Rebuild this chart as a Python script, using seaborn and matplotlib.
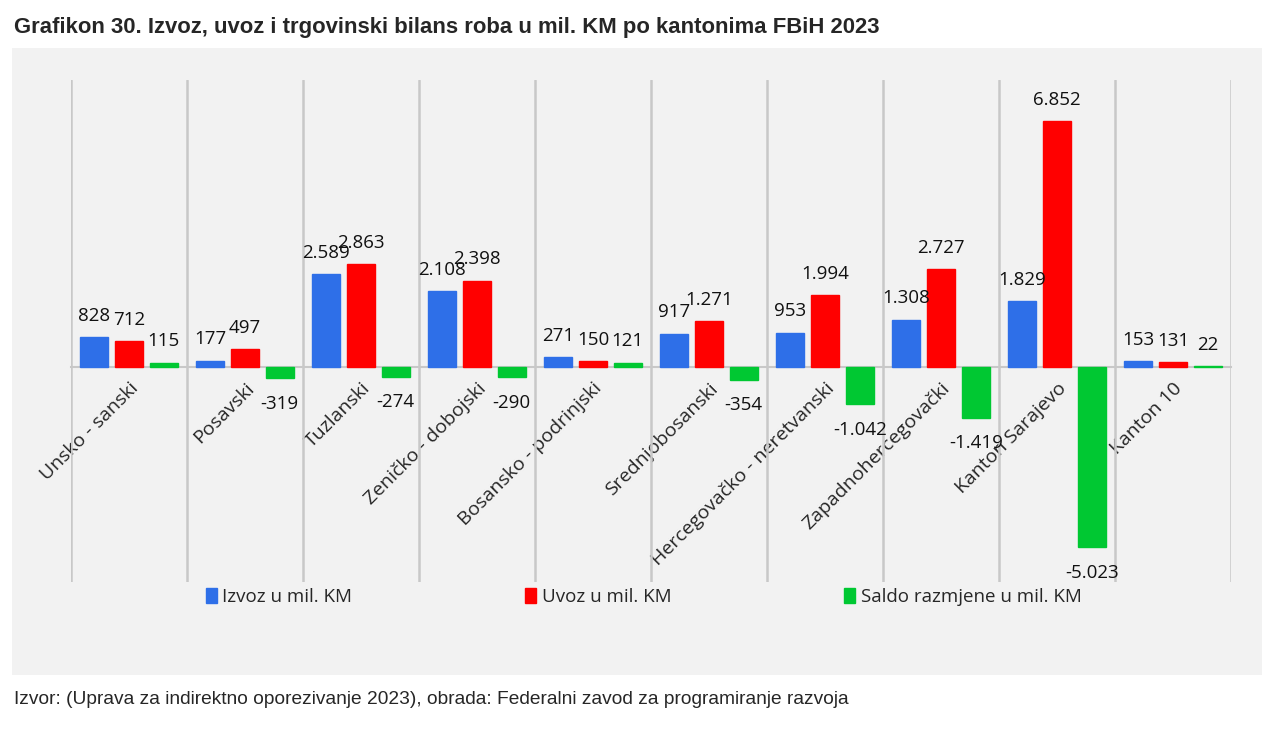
import matplotlib.pyplot as plt
import matplotlib.patches as mpatches
import pandas as pd
import seaborn as sns
import numpy as np

# data (mil. KM)
kantoni = ["Unsko - sanski", "Posavski", "Tuzlanski", "Zeničko - dobojski",
           "Bosansko - podrinjski", "Srednjobosanski", "Hercegovačko - neretvanski",
           "Zapadnohercegovački", "Kanton Sarajevo", "Kanton 10"]
izvoz = [828, 177, 2589, 2108, 271, 917, 953, 1308, 1829, 153]
uvoz = [712, 497, 2863, 2398, 150, 1271, 1994, 2727, 6852, 131]
saldo = [115, -319, -274, -290, 121, -354, -1042, -1419, -5023, 22]
serije = ["Izvoz u mil. KM", "Uvoz u mil. KM", "Saldo razmjene u mil. KM"]
boje = ["#2e6fe8", "#ff0000", "#00c832"]

df = pd.DataFrame({"kanton": kantoni * 3,
                   "serija": np.repeat(serije, len(kantoni)),
                   "vrijednost": izvoz + uvoz + saldo})

sns.set_style("white")
plt.rcParams["font.family"] = ["Open Sans", "DejaVu Sans"]

fig = plt.figure(figsize=(12.8, 7.39), dpi=100)
# light gray chart area (behind the axes)
fig.patches.append(mpatches.Rectangle((12 / 1280, 1 - 675 / 739), 1250 / 1280, 627 / 739,
                                      transform=fig.transFigure, facecolor="#f2f2f2",
                                      edgecolor="none", zorder=-5))
ax = fig.add_axes([71 / 1280, 1 - 582 / 739, 1160 / 1280, 502 / 739])
ax.set_facecolor("none")

sns.barplot(data=df, x="kanton", y="vrijednost", hue="serija", palette=boje,
            saturation=1, width=0.9, gap=0.2, ax=ax, legend=False, zorder=3)

fmt = lambda v: f"{v:,.0f}".replace(",", ".")
for cont in ax.containers:
    for bar in cont:
        bar.set_edgecolor(bar.get_facecolor())
    vals = [b.get_height() for b in cont]
    pos = [fmt(v) if v >= 0 else "" for v in vals]
    neg = [fmt(v) if v < 0 else "" for v in vals]
    ax.bar_label(cont, labels=pos, padding=9, fontsize=13.5, color="#111111")
    ax.bar_label(cont, labels=neg, padding=12, fontsize=13.5, color="#111111")

ax.set_ylim(-6000, 8000)
ax.set_xlim(-0.5, len(kantoni) - 0.5)
ax.set_yticks([])
ax.set_xlabel("")
ax.set_ylabel("")
for s in ["top", "right", "left"]:
    ax.spines[s].set_visible(False)
ax.spines["bottom"].set_position(("data", 0))
ax.spines["bottom"].set_color("#c8c8c8")
ax.spines["bottom"].set_linewidth(1.5)
ax.spines["bottom"].set_zorder(2)

ax.set_xticks(range(len(kantoni)))
ax.set_xticklabels(kantoni, rotation=45, ha="right", rotation_mode="anchor", fontsize=14)
ax.tick_params(axis="x", which="major", length=0, pad=9)
ax.set_xticks(np.arange(-0.5, len(kantoni)), minor=True)
ax.tick_params(axis="x", which="minor", length=0)
ax.grid(axis="x", which="minor", color="#c8c8c8", linewidth=1.8, zorder=1)
ax.grid(axis="x", which="major", visible=False)

handles = [mpatches.Patch(facecolor=c, edgecolor=c) for c in boje]
fig.legend(handles, serije, loc="center left", bbox_to_anchor=(198 / 1280, 1 - 597 / 739),
           ncol=3, frameon=False, fontsize=13.5, handlelength=0.6, handleheight=0.8,
           handletextpad=0.3, columnspacing=9.2, borderaxespad=0)

fig.text(14 / 1280, 1 - 28 / 739,
         "Grafikon 30. Izvoz, uvoz i trgovinski bilans roba u mil. KM po kantonima FBiH 2023",
         fontsize=15.9, fontweight="bold", family="Liberation Sans", va="center", ha="left")
fig.text(14 / 1280, 1 - 699 / 739,
         "Izvor: (Uprava za indirektno oporezivanje 2023), obrada: Federalni zavod za programiranje razvoja",
         fontsize=13.8, family="Liberation Sans", va="center", ha="left")

fig.savefig("out.png", dpi=100)
